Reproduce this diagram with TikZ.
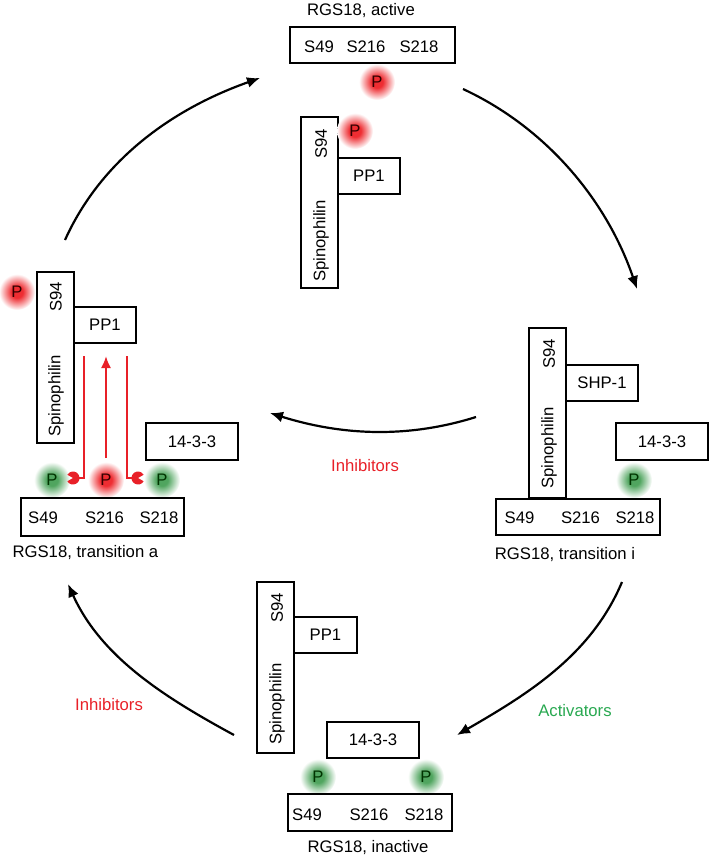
\documentclass[tikz,border=0pt]{standalone}
\usepackage{fontspec}
\setmainfont{Liberation Sans}
\usetikzlibrary{arrows.meta,positioning}

\definecolor{inhred}{RGB}{232,32,40}
\definecolor{actgreen}{RGB}{40,168,80}
\definecolor{pr}{RGB}{238,45,50}
\definecolor{pg}{RGB}{80,165,95}
\pgfdeclareradialshading{redglow}{\pgfpoint{0bp}{0bp}}{color(0bp)=(pr);color(8bp)=(pr);color(25bp)=(white);color(50bp)=(white)}
\pgfdeclareradialshading{greenglow}{\pgfpoint{0bp}{0bp}}{color(0bp)=(pg);color(8bp)=(pg);color(25bp)=(white);color(50bp)=(white)}

\begin{document}
\begin{tikzpicture}[x=1pt,y=-1pt,
  font=\fontsize{16.7}{20}\selectfont,
  box/.style={draw, line width=2pt, inner sep=0pt},
  pred/.style={circle, minimum size=36pt, inner sep=0pt, shading=redglow, text=black!80!red},
  pgreen/.style={circle, minimum size=36pt, inner sep=0pt, shading=greenglow, text=black!80!green},
  cyc/.style={line width=2.2pt, -{Latex[length=13pt,width=11pt]}},
  inh/.style={draw=inhred, line width=2pt}]
\useasboundingbox (0,0) rectangle (709,860);

% RGS18, active
\node (lblA) at (361,11) {RGS18, active};
\node[box, minimum width=165pt, minimum height=36pt] (rgsA) at (372.5,45) {};
\node (a49) at (319,47) {S49};
\node (a216) at (366,47) {S216};
\node (a218) at (419,47) {S218};
\node[pred] (pA) at (377,82) {P};
\node[box, minimum width=37pt, minimum height=171pt] (spA) at (319.5,202.5) {};
\node[box, minimum width=62pt, minimum height=36pt] (ppA) at (369,176) {PP1};
\node[rotate=90] at (321,144) {S94};
\node[rotate=90] at (321,241) {Spinophilin};
\node[pred] (pB) at (355,131) {P};

% RGS18, transition a
\node[box, minimum width=37pt, minimum height=171pt] (spL) at (55.5,357.5) {};
\node[box, minimum width=62pt, minimum height=36pt] (ppL) at (105,325) {PP1};
\node[rotate=90] at (56,297) {S94};
\node[rotate=90] at (56,396) {Spinophilin};
\node[pred] (pC) at (17,292) {P};
\node[box, minimum width=92pt, minimum height=37pt] (bL) at (192,441.5) {14-3-3};
\node[pgreen] (pD) at (52,480) {P};
\node[pred] (pE) at (106,480) {P};
\node[pgreen] (pF) at (162,480) {P};
\node[box, minimum width=163pt, minimum height=38pt] (rgsL) at (102.5,517) {};
\node (l49) at (43,518) {S49};
\node (l216) at (104.5,518) {S216};
\node (l218) at (159,518) {S218};
\node[anchor=west] (lblL) at (9,553) {RGS18, transition a};
\coordinate (hl) at (84,356);
\coordinate (hlend) at (79,478);
\coordinate (hr) at (127,356);
\coordinate (hrend) at (132,478);
\coordinate (up0) at (106,458);
\coordinate (up1) at (106,356);
\draw[inh] (hl) |- (hlend);
\draw[inh] (hr) |- (hrend);
\draw[inh, -{Latex[length=12pt,width=10pt]}] (up0) -- (up1);
\fill[inhred] (73,478) -- ++(150:6.5) arc[start angle=150, end angle=-150, radius=6.5] -- cycle;
\fill[inhred] (138,478) -- ++(30:6.5) arc[start angle=30, end angle=330, radius=6.5] -- cycle;

% RGS18, transition i
\node[box, minimum width=37pt, minimum height=170pt] (spR) at (547.5,413) {};
\node[box, minimum width=72pt, minimum height=36pt] (shR) at (602,383) {SHP-1};
\node[rotate=90] at (549,354) {S94};
\node[rotate=90] at (549,448) {Spinophilin};
\node[box, minimum width=92pt, minimum height=37pt] (bR) at (662,441.5) {14-3-3};
\node[pgreen] (pG) at (634,480) {P};
\node[box, minimum width=164pt, minimum height=36pt] (rgsR) at (578,517) {};
\node (r49) at (519.5,518) {S49};
\node (r216) at (580.5,518) {S216};
\node (r218) at (635,518) {S218};
\node (lblR) at (565,555) {RGS18, transition i};

% RGS18, inactive
\node[box, minimum width=37pt, minimum height=171pt] (spB) at (275.5,667.5) {};
\node[box, minimum width=63pt, minimum height=36pt] (ppB) at (325.5,635) {PP1};
\node[rotate=90] at (277,608) {S94};
\node[rotate=90] at (277,704) {Spinophilin};
\node[box, minimum width=92pt, minimum height=36pt] (bB) at (373,740) {14-3-3};
\node[pgreen] (pH) at (318,777) {P};
\node[pgreen] (pI) at (426,777) {P};
\node[box, minimum width=164pt, minimum height=37pt] (rgsB) at (370,812.5) {};
\node (b49) at (307,815) {S49};
\node (b216) at (369,815) {S216};
\node (b218) at (424,815) {S218};
\node (lblB) at (368,848) {RGS18, inactive};

% cycle
\coordinate (c1s) at (65,240);
\coordinate (c1e) at (260,78);
\coordinate (c2s) at (463,89);
\coordinate (c2e) at (637,289);
\coordinate (c3s) at (476,417);
\coordinate (c3e) at (270,413);
\coordinate (c4s) at (622,582);
\coordinate (c4e) at (457,735);
\coordinate (c5s) at (234,735);
\coordinate (c5e) at (68,584);
\draw[cyc] (c1s) .. controls (102,158) and (175,108) .. (c1e);
\draw[cyc] (c2s) .. controls (547,128) and (607,201) .. (c2e);
\draw[cyc] (c3s) .. controls (406,439) and (340,435) .. (c3e);
\draw[cyc] (c4s) .. controls (591,656) and (526,695) .. (c4e);
\draw[cyc] (c5s) .. controls (164,697) and (101,657) .. (c5e);
\node[text=inhred] (inhM) at (365,466) {Inhibitors};
\node[text=actgreen] (act) at (575,711) {Activators};
\node[text=inhred] (inhL) at (109,705) {Inhibitors};
\end{tikzpicture}
\end{document}
